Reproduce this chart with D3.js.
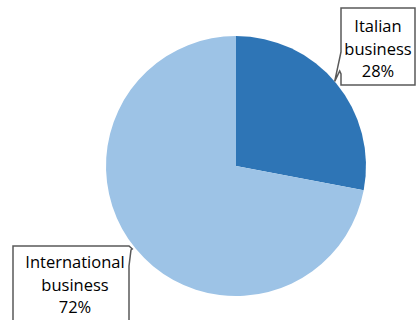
<!DOCTYPE html>
<html><head><meta charset="utf-8">
<script src="https://cdn.jsdelivr.net/npm/d3@7"></script>
<style>body{margin:0;background:#fff}svg{display:block}</style>
</head><body>
<script>
const categories = ["Italian business", "International business"];
const values = [28, 72];
const colors = ["#2E75B6", "#9DC3E6"];
const labelLines = [["Italian", "business", "28%"], ["International", "business", "72%"]];

const W = 417, H = 320;
const svg = d3.select("body").append("svg").attr("width", W).attr("height", H);
const cx = 236, cy = 166, r = 130;
const pie = d3.pie().sort(null).value(d => d)(values);
const arc = d3.arc().innerRadius(0).outerRadius(r);
const g = svg.append("g").attr("transform", `translate(${cx},${cy})`);
g.selectAll("path").data(pie).join("path")
  .attr("d", arc).attr("fill", (d, i) => colors[i]);

// callouts
const callouts = [
  {box: [341, 8, 415, 85], text: [378, 32], path: (b, t) => `M${b[0]},${b[1]}H${b[2]}V${b[3]}H${b[0]}V74L${t[0]+5},71L${t[0]},${t[1]}L${b[0]},52Z`},
  {box: [13, 246, 131, 330], text: [75, 268], path: (b, t) => `M${b[0]},${b[1]}H${b[2]-2}L${t[0]-2},${t[1]+2}L${b[2]},250L${b[2]-2},266V${b[3]}H${b[0]}Z`}
];
pie.forEach((d, i) => {
  const ang = i === 0 ? 0.862 : 4.04;
  const tip = [cx + r * Math.sin(ang), cy - r * Math.cos(ang)];
  const c = callouts[i];
  svg.append("path").attr("d", c.path(c.box, tip))
    .attr("fill", "#fff").attr("stroke", "#595959").attr("stroke-width", 1.5);
  const t = svg.append("text").attr("text-anchor", "middle")
    .attr("font-family", "Open Sans, sans-serif").attr("font-size", 16.5).attr("fill", "#000");
  labelLines[i].forEach((s, j) => {
    t.append("tspan").attr("x", c.text[0]).attr("y", c.text[1] + j * 22.5).text(s);
  });
});
</script>
</body></html>
